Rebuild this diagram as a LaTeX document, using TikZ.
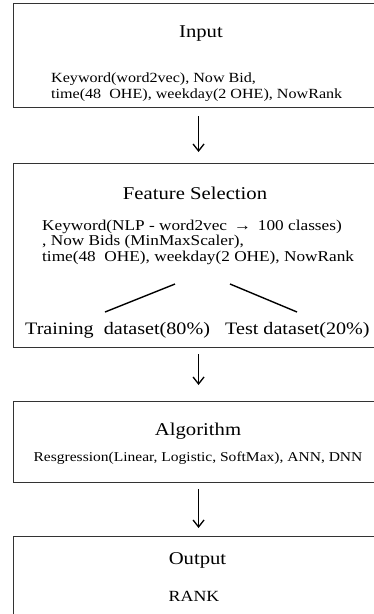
\documentclass[tikz,border=0pt]{standalone}
\usepackage{fontspec}
\setmainfont[FakeStretch=1.15]{Liberation Serif}
\usetikzlibrary{arrows.meta}

\begin{document}
\begin{tikzpicture}[x=1pt,y=-1pt,
  frame/.style={draw=black!80, line width=1.1pt, minimum width=370pt, anchor=north west, inner sep=0},
  head/.style={font=\fontsize{18}{21}\selectfont, anchor=base, inner sep=0},
  body/.style={font=\fontsize{14}{16}\selectfont, anchor=base west, inner sep=0},
  fsbody/.style={font=\fontsize{15}{17}\selectfont, anchor=base west, inner sep=0},
  setlabel/.style={font=\fontsize{17.5}{20}\selectfont, anchor=base west, inner sep=0},
  flow/.style={line width=1.3pt, -{Straight Barb[length=7pt,width=11pt]}},
  split/.style={line width=1.4pt}]
\useasboundingbox (0,0) rectangle (374,614);
\clip (0,0) rectangle (374,614);

% stage boxes (they run past the right edge)
\node[frame, minimum height=104pt] (input) at (13,3) {};
\node[frame, minimum height=184pt] (fsel) at (13,163) {};
\node[frame, minimum height=81pt] (algo) at (13,401) {};
\node[frame, minimum height=120pt] (output) at (13,536) {};

% Input
\node[head] (inT) at (201,37) {Input};
\node[body] (in1) at (51,82) {Keyword(word2vec), Now Bid,};
\node[body] (in2) at (51,98.5) {time(48\ \ OHE), weekday(2 OHE), NowRank};

% Feature selection
\node[head] (fsT) at (195,199) {Feature Selection};
\node[fsbody] (fs1) at (42,230) {Keyword(NLP - word2vec \,→\, 100 classes)};
\node[fsbody] (fs2) at (42,245.5) {, Now Bids (MinMaxScaler),};
\node[fsbody] (fs3) at (42,261) {time(48\ \ OHE), weekday(2 OHE), NowRank};
\coordinate (splitL) at (175,284);
\coordinate (splitR) at (230,284);
\coordinate (trainTop) at (105,312);
\coordinate (testTop) at (297,312);
\draw[split] (splitL) -- (trainTop);
\draw[split] (splitR) -- (testTop);
\node[setlabel] (train) at (25,334) {Training\ \ dataset(80\%)};
\node[setlabel] (test) at (225,334) {Test dataset(20\%)};

% Algorithm
\node[head] (alT) at (198,435.5) {Algorithm};
\node[body, font=\fontsize{13.5}{16}\selectfont, anchor=base] (al1) at (198,461) {Resgression(Linear, Logistic, SoftMax), ANN, DNN};

% Output
\node[head] (outT) at (197.5,564) {Output};
\node[font=\fontsize{15.5}{18}\selectfont, anchor=base, inner sep=0] (rank) at (194,601) {RANK};

% flow between stages
\draw[flow] ([yshift=-8pt]input.south) -- ([yshift=11pt]fsel.north);
\draw[flow] ([yshift=-6pt]fsel.south) -- ([yshift=16pt]algo.north);
\draw[flow] ([yshift=-6pt]algo.south) -- ([yshift=8pt]output.north);
\end{tikzpicture}
\end{document}
